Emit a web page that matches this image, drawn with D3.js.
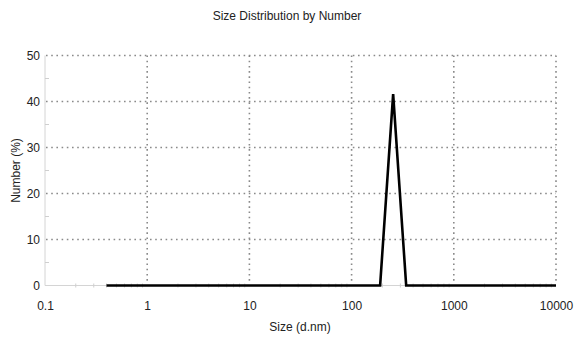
<!DOCTYPE html>
<html>
<head>
<meta charset="utf-8">
<script src="https://cdn.jsdelivr.net/npm/d3@7"></script>
<style>
  html, body { margin: 0; padding: 0; background: #fff; }
  svg { display: block; font-family: "Liberation Sans", Arial, sans-serif; }
</style>
</head>
<body>
<svg id="chart" width="575" height="338"></svg>
<script>
// Size distribution by number (DLS)
const sizes   = [0.4, 190.1, 255.0, 342.0, 10000];
const numbers = [0,   0,     41.6,  0,     0];
const xTickValues = [0.1, 1, 10, 100, 1000, 10000];
const xTickLabels = ["0.1", "1", "10", "100", "1000", "10000"];
const yTickValues = [0, 10, 20, 30, 40, 50];

const svg = d3.select("#chart");
const margin = { left: 45, right: 19, top: 55.5, bottom: 52.5 };
const W = 575, H = 338;

const x = d3.scaleLog().domain([0.1, 10000]).range([margin.left, W - margin.right]);
const y = d3.scaleLinear().domain([0, 50]).range([H - margin.bottom, margin.top]);

// title
svg.append("text")
  .attr("x", 287).attr("y", 20)
  .attr("text-anchor", "middle")
  .attr("font-size", 12)
  .attr("fill", "#222")
  .text("Size Distribution by Number");

// axis base lines (light gray)
svg.append("line")
  .attr("x1", x(0.1)).attr("x2", x(10000))
  .attr("y1", y(0)).attr("y2", y(0))
  .attr("stroke", "#d4d4d4").attr("stroke-width", 1);
svg.append("line")
  .attr("x1", x(0.1)).attr("x2", x(0.1))
  .attr("y1", y(0)).attr("y2", y(50))
  .attr("stroke", "#d4d4d4").attr("stroke-width", 1);

// minor ticks on x axis
const minorX = [];
for (let d = 0.1; d < 10000; d *= 10) {
  for (let k = 2; k <= 9; k++) minorX.push(d * k);
}
svg.append("g").selectAll("line").data(minorX).join("line")
  .attr("x1", d => x(d)).attr("x2", d => x(d))
  .attr("y1", y(0) - 2).attr("y2", y(0) + 2)
  .attr("stroke", "#cfcfcf").attr("stroke-width", 1);

// minor ticks on y axis
const minorY = d3.range(5, 50, 10);
svg.append("g").selectAll("line").data(minorY).join("line")
  .attr("x1", x(0.1)).attr("x2", x(0.1) + 4)
  .attr("y1", d => y(d)).attr("y2", d => y(d))
  .attr("stroke", "#cfcfcf").attr("stroke-width", 1);

// dotted grid
const grid = svg.append("g")
  .attr("stroke", "#8a8a8a")
  .attr("stroke-width", 1.6)
  .attr("stroke-dasharray", "1.6,3.6");
grid.selectAll("line.h").data(yTickValues.filter(v => v > 0)).join("line")
  .attr("class", "h")
  .attr("x1", x(0.1) + 1).attr("x2", x(10000))
  .attr("y1", d => y(d)).attr("y2", d => y(d));
grid.selectAll("line.v").data(xTickValues.filter(v => v > 0.1)).join("line")
  .attr("class", "v")
  .attr("x1", d => x(d)).attr("x2", d => x(d))
  .attr("y1", y(50)).attr("y2", y(0) - 2);

// axes labels via d3 axes (no domain / tick lines)
const xAxis = d3.axisBottom(x)
  .tickValues(xTickValues)
  .tickFormat((d, i) => xTickLabels[i])
  .tickSize(0).tickPadding(16);
const gx = svg.append("g")
  .attr("transform", `translate(0,${y(0)})`)
  .call(xAxis);
gx.select(".domain").remove();
gx.selectAll("text").attr("font-size", 12).attr("fill", "#222")
  .attr("font-family", "Liberation Sans, Arial, sans-serif");

const yAxis = d3.axisLeft(y)
  .tickValues(yTickValues)
  .tickFormat(d3.format("d"))
  .tickSize(0).tickPadding(5);
const gy = svg.append("g")
  .attr("transform", `translate(${x(0.1)},0)`)
  .call(yAxis);
gy.select(".domain").remove();
gy.selectAll("text").attr("font-size", 12).attr("fill", "#222")
  .attr("font-family", "Liberation Sans, Arial, sans-serif");

// axis titles
svg.append("text")
  .attr("x", 300).attr("y", 331)
  .attr("text-anchor", "middle")
  .attr("font-size", 12)
  .attr("fill", "#222")
  .text("Size (d.nm)");
svg.append("text")
  .attr("transform", `translate(20,${(y(0) + y(50)) / 2}) rotate(-90)`)
  .attr("text-anchor", "middle")
  .attr("font-size", 12)
  .attr("fill", "#222")
  .text("Number (%)");

// distribution line
const line = d3.line()
  .x((d, i) => x(sizes[i]))
  .y(d => y(d));
svg.append("path")
  .datum(numbers)
  .attr("d", line)
  .attr("fill", "none")
  .attr("stroke", "#000")
  .attr("stroke-width", 2.6)
  .attr("stroke-linejoin", "miter");
</script>
</body>
</html>
